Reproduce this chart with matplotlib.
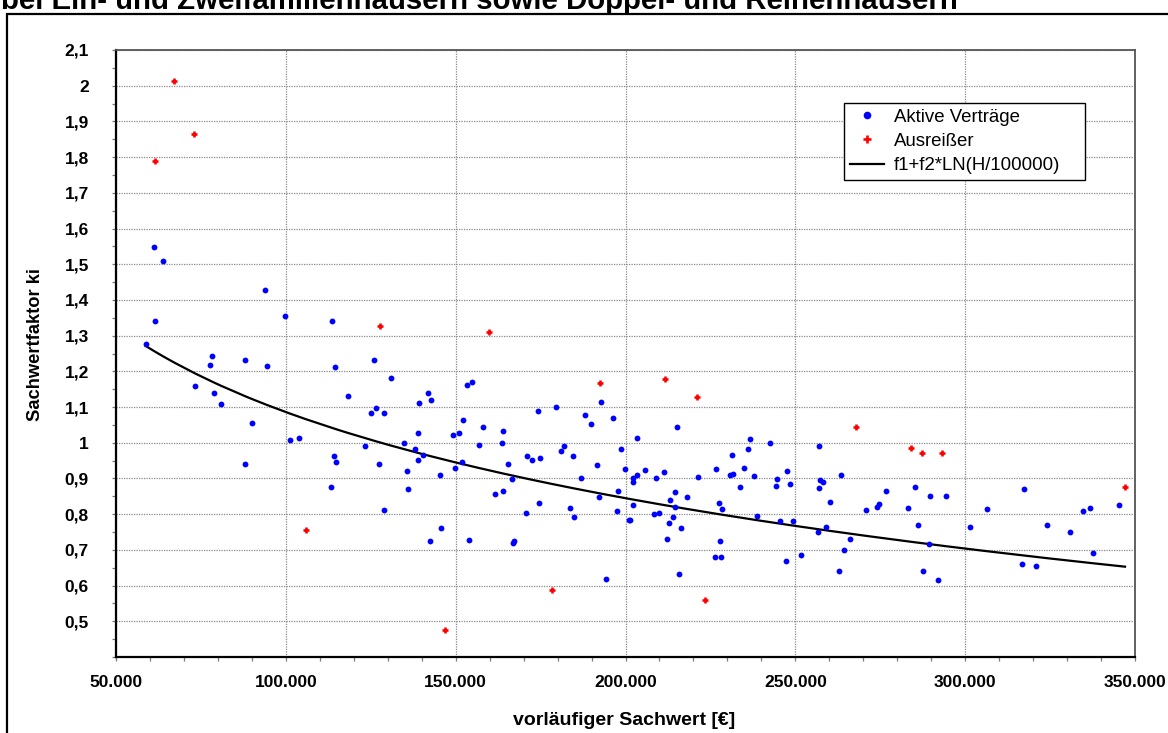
import numpy as np
import matplotlib
matplotlib.use("Agg")
import matplotlib.pyplot as plt
from matplotlib.patches import Rectangle
from matplotlib.lines import Line2D
from matplotlib.ticker import MultipleLocator, FuncFormatter

plt.rcParams['font.family'] = ['Liberation Sans', 'DejaVu Sans']

# Aktive Verträge: vorläufiger Sachwert H [€] und Sachwertfaktor ki
aktive_h = [
    61170, 63900, 93730, 99800, 61470, 113600, 58730, 78230, 77650, 88040,
    94500, 114400, 125970, 131080, 73330, 78820, 80970, 118320, 126560, 125190,
    128910, 89910, 101260, 103820, 123320, 114120, 114900, 88040, 127400, 113230,
    128910, 141960, 142840, 139310, 153320, 154700, 152050, 138820, 134900, 138020,
    140290, 139020, 135790, 135980, 145360, 145790, 142550, 149320, 150970, 149900,
    151760, 153900, 158020, 156840, 163900, 163610, 165290, 166670, 161550, 163900,
    166760, 167200, 170680, 174330, 171090, 172440, 174790, 174500, 179410, 180970,
    181850, 184500, 183530, 184790, 186850, 188120, 189980, 192720, 191540, 192130,
    196250, 198710, 199780, 197720, 197520, 194400, 203420, 202150, 202150, 203510,
    205770, 202150, 200980, 201400, 209100, 211250, 208400, 209770, 215080, 214610,
    213030, 214610, 214110, 212730, 212260, 215670, 216360, 218000, 221240, 227430,
    228300, 226560, 227740, 226350, 228000, 230760, 231530, 231470, 233620, 235000,
    236090, 236560, 237740, 238620, 242650, 244500, 244210, 245390, 247450, 248330,
    249410, 247140, 251550, 257060, 257150, 258240, 257060, 260200, 256560, 258910,
    263320, 262940, 264320, 265970, 270880, 273910, 274700, 276760, 283230, 285290,
    285970, 289610, 289490, 287720, 292040, 294400, 301470, 306370, 317260, 316670,
    320970, 324210, 330790, 334800, 336760, 337740, 345380,
]
aktive_k = [
    1.548, 1.510, 1.429, 1.355, 1.342, 1.342, 1.276, 1.242, 1.218, 1.231,
    1.214, 1.211, 1.231, 1.182, 1.160, 1.139, 1.108, 1.130, 1.097, 1.082,
    1.082, 1.055, 1.007, 1.012, 0.992, 0.962, 0.947, 0.941, 0.941, 0.877,
    0.813, 1.139, 1.119, 1.112, 1.161, 1.171, 1.065, 1.028, 0.999, 0.982,
    0.967, 0.952, 0.922, 0.871, 0.911, 0.760, 0.726, 1.022, 1.026, 0.930,
    0.946, 0.728, 1.043, 0.994, 1.032, 1.000, 0.941, 0.899, 0.856, 0.866,
    0.720, 0.724, 0.803, 1.088, 0.962, 0.952, 0.958, 0.830, 1.100, 0.978,
    0.990, 0.962, 0.817, 0.792, 0.902, 1.077, 1.052, 1.113, 0.939, 0.847,
    1.069, 0.982, 0.926, 0.864, 0.809, 0.619, 1.012, 0.900, 0.891, 0.911,
    0.924, 0.826, 0.783, 0.783, 0.902, 0.917, 0.800, 0.804, 1.045, 0.861,
    0.841, 0.821, 0.792, 0.774, 0.730, 0.633, 0.761, 0.849, 0.904, 0.832,
    0.814, 0.926, 0.725, 0.680, 0.680, 0.910, 0.913, 0.967, 0.877, 0.930,
    0.983, 1.011, 0.906, 0.796, 1.000, 0.899, 0.878, 0.780, 0.922, 0.885,
    0.781, 0.668, 0.687, 0.992, 0.897, 0.890, 0.874, 0.834, 0.749, 0.763,
    0.911, 0.640, 0.700, 0.730, 0.813, 0.821, 0.829, 0.866, 0.817, 0.877,
    0.770, 0.850, 0.716, 0.642, 0.617, 0.851, 0.763, 0.815, 0.870, 0.661,
    0.655, 0.770, 0.751, 0.808, 0.817, 0.690, 0.826,
]

# Ausreißer
ausreisser_h = [
    67060, 72850, 61470, 127840, 105880, 159800, 192550, 211760, 146870,
    178230, 221180, 223330, 267940, 284120, 287160, 293040, 347060,
]
ausreisser_k = [
    2.013, 1.866, 1.789, 1.328, 0.756, 1.309, 1.166, 1.178, 0.476,
    0.587, 1.129, 0.560, 1.043, 0.986, 0.971, 0.971, 0.877,
]

# Ausgleichsfunktion ki = f1 + f2 * ln(H / 100000)
f1 = 1.086
f2 = -0.348

title = "bei Ein- und Zweifamilienhäusern sowie Doppel- und Reihenhäusern"
x_label = "vorläufiger Sachwert [€]"
y_label = "Sachwertfaktor ki"
legend_labels = ["Aktive Verträge", "Ausreißer", "f1+f2*LN(H/100000)"]

W, H = 1168, 733
fig = plt.figure(figsize=(W / 100, H / 100), dpi=100)
fig.patch.set_facecolor("white")

# plot area in pixel coordinates
left_px, right_px, top_px, bottom_px = 116, 1135, 50, 657
ax = fig.add_axes([left_px / W, 1 - bottom_px / H,
                   (right_px - left_px) / W, (bottom_px - top_px) / H])
ax.set_xlim(50000, 350000)
ax.set_ylim(0.4, 2.1)
ax.set_axisbelow(True)

# fitted curve evaluated at the observed H values
h_all = np.unique(np.array(aktive_h + ausreisser_h, dtype=float))
k_fit = f1 + f2 * np.log(h_all / 100000.0)
ax.plot(h_all, k_fit, color="black", lw=1.6, zorder=3, solid_joinstyle="miter")

ax.plot(aktive_h, aktive_k, linestyle="none", marker="o", ms=4.2,
        mfc="#0000ff", mec="#0000ff", mew=0, zorder=4)
ax.plot(ausreisser_h, ausreisser_k, linestyle="none", marker="+", ms=4.8,
        mec="#ff0000", mew=1.9, zorder=4)

# ticks
ax.xaxis.set_major_locator(MultipleLocator(50000))
ax.xaxis.set_minor_locator(MultipleLocator(10000))
ax.yaxis.set_major_locator(MultipleLocator(0.1))
ax.yaxis.set_minor_locator(MultipleLocator(0.05))


def fmt_x(v, pos):
    return f"{int(round(v)):,}".replace(",", ".")


def fmt_y(v, pos):
    if v < 0.45:
        return ""
    s = f"{v:.1f}"
    if s.endswith(".0"):
        s = s[:-2]
    return s.replace(".", ",")


ax.xaxis.set_major_formatter(FuncFormatter(fmt_x))
ax.yaxis.set_major_formatter(FuncFormatter(fmt_y))

ax.tick_params(axis="both", which="both", direction="out", length=3,
               width=0.9, color="#7a7a7a")
ax.tick_params(axis="y", which="major", pad=16.5)
ax.tick_params(axis="x", which="major", pad=10)
for lbl in ax.get_xticklabels() + ax.get_yticklabels():
    lbl.set_fontsize(12.5)
    lbl.set_fontweight("bold")

ax.grid(True, which="major", color="#8a8a8a", linestyle=(0, (1, 1)), linewidth=0.9)

for side in ("left", "bottom"):
    ax.spines[side].set_color("black")
    ax.spines[side].set_linewidth(1.6)
for side in ("top", "right"):
    ax.spines[side].set_color("#555555")
    ax.spines[side].set_linewidth(1.3)

# legend, stretched over a fixed box width
handles = [
    Line2D([], [], linestyle="none", marker="o", ms=5.5, mfc="#0000ff", mec="#0000ff", mew=0),
    Line2D([], [], linestyle="none", marker="+", ms=5.5, mec="#ff0000", mew=1.9),
    Line2D([], [], color="black", lw=1.6),
]
span = right_px - left_px
leg_x0 = (844 - left_px) / span
leg_w = (1085 - 844) / span
leg_top = (bottom_px - 103) / (bottom_px - top_px)
leg = ax.legend(handles, legend_labels, loc="upper left",
                bbox_to_anchor=(leg_x0, leg_top - 0.4, leg_w, 0.4),
                mode="expand", borderaxespad=0, frameon=True, fancybox=False,
                framealpha=1, edgecolor="black", fontsize=13.4,
                handlelength=1.83, handletextpad=0.54, labelspacing=0.39,
                borderpad=0.3)
leg.get_frame().set_linewidth(1.0)

# axis titles
fig.text(624 / W, 1 - 725 / H, x_label, ha="center", va="baseline",
         fontsize=14, fontweight="bold")
fig.text(36 / W, 1 - 345 / H, y_label, ha="center", va="center",
         rotation=90, fontsize=13.2, fontweight="bold")

# chart title and outer frame
fig.text(1 / W, 1 - 9 / H, title, ha="left", va="baseline",
         fontsize=21.2, fontweight="bold")
fig.add_artist(Rectangle((7 / W, -0.1), 1.5, (1 - 14 / H) + 0.1,
                         transform=fig.transFigure, fill=False,
                         edgecolor="black", linewidth=1.6))

fig.savefig("out.png", dpi=100)
